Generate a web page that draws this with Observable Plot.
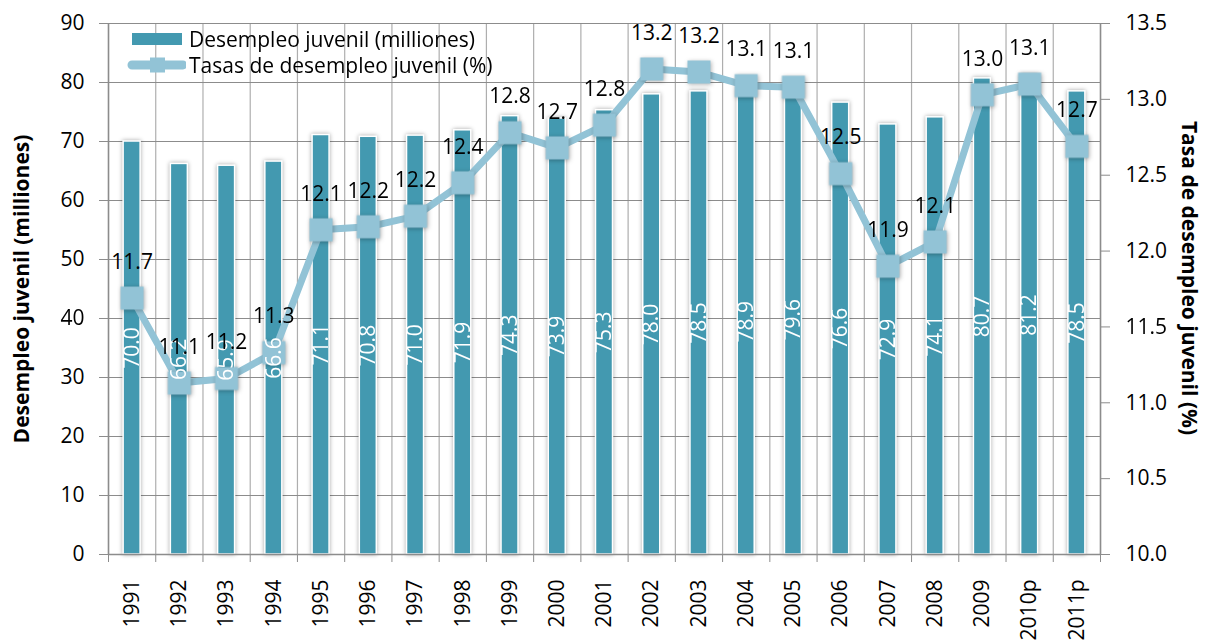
<!DOCTYPE html>
<html>
<head>
<meta charset="utf-8">
<script src="https://cdn.jsdelivr.net/npm/d3@7"></script>
<script src="https://cdn.jsdelivr.net/npm/@observablehq/plot@0.6"></script>
<style>
  html, body { margin: 0; padding: 0; background: white; }
  #wrap { position: relative; width: 1206px; height: 643px; overflow: hidden; font-family: "Open Sans", sans-serif; }
  #legend { position: absolute; left: 126px; top: 26px; font-size: 21px; color: #000; line-height: 26px; }
  #legend .row { display: flex; align-items: center; height: 26px; }
  #legend svg { margin-right: 3px; }
</style>
</head>
<body>
<div id="wrap">
  <div id="chart"></div>
  <div id="legend"></div>
</div>
<script>
const years = ["1991","1992","1993","1994","1995","1996","1997","1998","1999","2000","2001","2002","2003","2004","2005","2006","2007","2008","2009","2010p","2011p"];
const desempleo = [70.0, 66.2, 65.9, 66.6, 71.1, 70.8, 71.0, 71.9, 74.3, 73.9, 75.3, 78.0, 78.5, 78.9, 79.6, 76.6, 72.9, 74.1, 80.7, 81.2, 78.5];
const tasas = [11.69, 11.13, 11.16, 11.33, 12.14, 12.16, 12.23, 12.45, 12.78, 12.68, 12.83, 13.20, 13.18, 13.09, 13.08, 12.51, 11.90, 12.06, 13.03, 13.10, 12.69];
const leftTicks = [0, 10, 20, 30, 40, 50, 60, 70, 80, 90];
const rightTicks = [10.0, 10.5, 11.0, 11.5, 12.0, 12.5, 13.0, 13.5];
const seriesNames = ["Desempleo juvenil (milliones)", "Tasas de desempleo juvenil (%)"];
const leftTitle = "Desempleo juvenil (milliones)";
const rightTitle = "Tasa de desempleo juvenil (%)";

const barColor = "#4399b0";
const lineColor = "#92c3d6";
const gridColor = "#8c8c8c";

const rMin = 10, rMax = 13.5, lMax = 90;
const toLeft = r => (r - rMin) / (rMax - rMin) * lMax;
const fromLeft = v => v / lMax * (rMax - rMin) + rMin;

const data = years.map((y, i) => ({i, year: y, d: desempleo[i], t: tasas[i], ty: toLeft(tasas[i])}));
const boundaries = d3.range(0, years.length + 1).map(k => k - 0.5);
const halfBar = 0.18;

const chart = Plot.plot({
  width: 1206,
  height: 643,
  marginLeft: 108,
  marginRight: 106,
  marginTop: 23,
  marginBottom: 89,
  x: {domain: [-0.5, years.length - 0.5]},
  y: {domain: [0, lMax]},
  style: {fontFamily: "Open Sans, sans-serif", fontSize: "21px", color: "#000", background: "white"},
  marks: [
    Plot.ruleY(leftTicks, {stroke: gridColor, strokeWidth: 1.2}),
    Plot.ruleX(boundaries, {stroke: gridColor, strokeWidth: 1.2, strokeOpacity: 0.7}),
    Plot.ruleX([boundaries[0], boundaries[boundaries.length - 1]], {stroke: gridColor, strokeWidth: 1.5}),
    Plot.rect(data, {x1: d => d.i - halfBar, x2: d => d.i + halfBar, y1: 0, y2: "d", fill: barColor, stroke: "white", strokeWidth: 1.5}),
    Plot.line(data, {x: "i", y: "ty", stroke: lineColor, strokeWidth: 7}),
    Plot.dot(data, {x: "i", y: "ty", symbol: "square", r: 13, fill: lineColor}),
    Plot.text(data, {x: "i", y: d => d.d / 2, text: d => d.d.toFixed(1), rotate: -90, fill: "white", fontSize: 21}),
    Plot.text(data, {x: "i", y: "ty", text: d => d.t.toFixed(1), dy: -36, fill: "black", fontSize: 21}),
    Plot.axisY(leftTicks, {anchor: "left", tickSize: 9, tickPadding: 15, label: null, stroke: gridColor, fill: "black", fontSize: 21}),
    Plot.axisY(rightTicks.map(toLeft), {anchor: "right", tickSize: 9, tickPadding: 16, tickFormat: v => fromLeft(v).toFixed(1), label: null, stroke: gridColor, fill: "black", fontSize: 21}),
    Plot.axisX(boundaries, {anchor: "bottom", tickSize: 8, tickFormat: () => "", label: null, stroke: gridColor}),
    Plot.axisX(data.map(d => d.i), {anchor: "bottom", tickSize: 0, tickPadding: 25, tickRotate: -90, tickFormat: i => years[i], label: null, fill: "black", fontSize: 21}),
    Plot.ruleY([0], {stroke: gridColor, strokeWidth: 1.5}),
    Plot.text([leftTitle], {frameAnchor: "left", textAnchor: "middle", rotate: -90, dx: -86, fontWeight: "bold", fontSize: 21, fill: "black"}),
    Plot.text([rightTitle], {frameAnchor: "right", textAnchor: "middle", rotate: 90, dx: 88, dy: -11, fontWeight: "bold", fontSize: 21, fill: "black"})
  ]
});
document.getElementById("chart").appendChild(chart);

// soft shadows like the original
d3.select(chart).selectAll('g[aria-label="rect"]').style("filter", "drop-shadow(0px 0px 2px rgba(0,0,0,0.35))");
d3.select(chart).selectAll('g[aria-label="dot"]').style("filter", "drop-shadow(1px 1px 2px rgba(0,0,0,0.3))");

// legend
const legend = d3.select("#legend");
const r1 = legend.append("div").attr("class", "row");
const s1 = r1.append("svg").attr("width", 60).attr("height", 26);
s1.append("rect").attr("x", 6).attr("y", 7).attr("width", 50).attr("height", 12).attr("fill", barColor);
r1.append("span").text(seriesNames[0]);
const r2 = legend.append("div").attr("class", "row");
const s2 = r2.append("svg").attr("width", 60).attr("height", 26);
s2.append("line").attr("x1", 6).attr("x2", 57).attr("y1", 13).attr("y2", 13).attr("stroke", lineColor).attr("stroke-width", 9).attr("stroke-linecap", "round");
s2.append("rect").attr("x", 24).attr("y", 5.5).attr("width", 15).attr("height", 15).attr("fill", lineColor);
r2.append("span").text(seriesNames[1]);
</script>
</body>
</html>
